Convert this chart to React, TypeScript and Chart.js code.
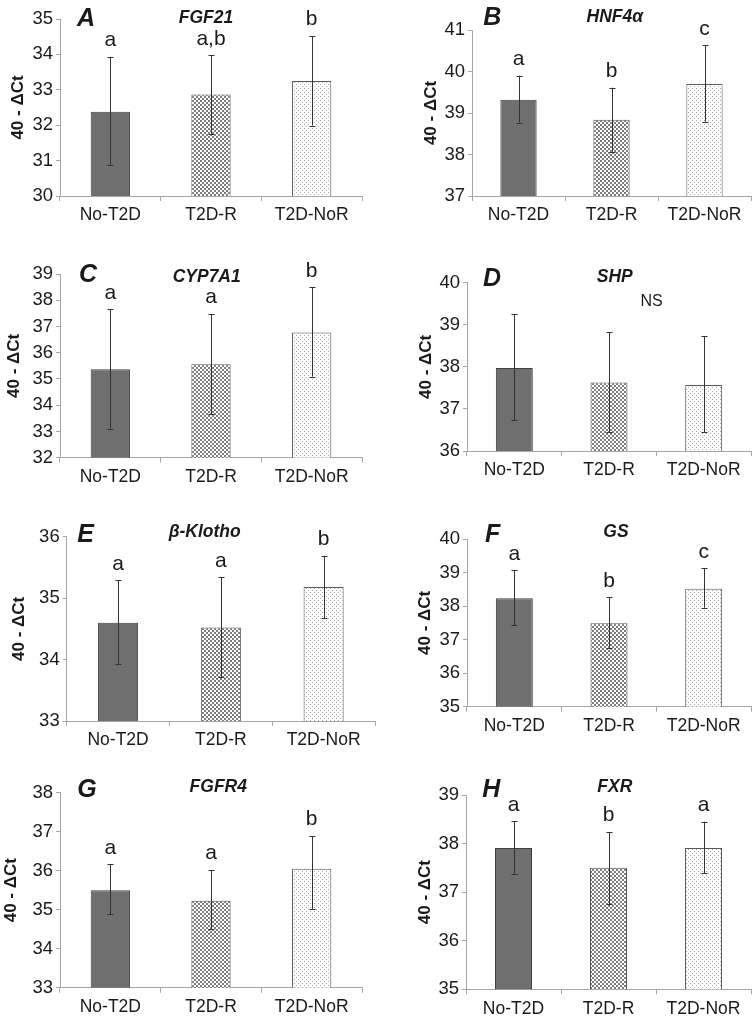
import React, { useEffect, useRef } from 'react';
import { Chart, registerables } from 'chart.js';

Chart.register(...registerables);

const FONT = "'Liberation Sans', Arial, Helvetica, sans-serif";

// ---------- data ----------
const categories = ['No-T2D', 'T2D-R', 'T2D-NoR'];
const panelLetters = ['A', 'B', 'C', 'D', 'E', 'F', 'G', 'H'];
const genes = ['FGF21', 'HNF4α', 'CYP7A1', 'SHP', 'β-Klotho', 'GS', 'FGFR4', 'FXR'];
const yTitle = '40 - ΔCt';
const yMins = [30, 37, 32, 36, 33, 35, 33, 35];
const yMaxs = [35, 41, 39, 40, 36, 40, 38, 39];

const meansFGF21 = [32.38, 32.87, 33.25];
const meansHNF4a = [39.32, 38.84, 39.70];
const meansCYP7A1 = [35.37, 35.56, 36.77];
const meansSHP = [37.97, 37.63, 37.57];
const meansKlotho = [34.60, 34.52, 35.18];
const meansGS = [38.23, 37.49, 38.52];
const meansFGFR4 = [35.50, 35.23, 36.05];
const meansFXR = [37.91, 37.50, 37.91];

const errHighFGF21 = [33.93, 33.98, 34.52];
const errHighHNF4a = [39.90, 39.61, 40.63];
const errHighCYP7A1 = [37.66, 37.48, 38.50];
const errHighSHP = [39.25, 38.82, 38.73];
const errHighKlotho = [35.29, 35.34, 35.69];
const errHighGS = [39.07, 38.26, 39.13];
const errHighFGFR4 = [36.16, 36.02, 36.89];
const errHighFXR = [38.46, 38.24, 38.45];

const errLowFGF21 = [30.87, 31.75, 31.99];
const errLowHNF4a = [38.77, 38.07, 38.79];
const errLowCYP7A1 = [33.10, 33.65, 35.09];
const errLowSHP = [36.74, 36.44, 36.44];
const errLowKlotho = [33.93, 33.71, 34.67];
const errLowGS = [37.43, 36.76, 37.95];
const errLowFGFR4 = [34.88, 34.50, 35.02];
const errLowFXR = [37.38, 36.75, 37.39];

const sigFGF21 = ['a', 'a,b', 'b'];
const sigHNF4a = ['a', 'b', 'c'];
const sigCYP7A1 = ['a', 'a', 'b'];
const sigSHP: string[] = [];
const sigKlotho = ['a', 'a', 'b'];
const sigGS = ['a', 'b', 'c'];
const sigFGFR4 = ['a', 'a', 'b'];
const sigFXR = ['a', 'b', 'a'];

// panel-level note (data coords: category index, value)
const noteSHP = { text: 'NS', x: 1.45, y: 39.45 };

const allMeans = [meansFGF21, meansHNF4a, meansCYP7A1, meansSHP, meansKlotho, meansGS, meansFGFR4, meansFXR];
const allHigh = [errHighFGF21, errHighHNF4a, errHighCYP7A1, errHighSHP, errHighKlotho, errHighGS, errHighFGFR4, errHighFXR];
const allLow = [errLowFGF21, errLowHNF4a, errLowCYP7A1, errLowSHP, errLowKlotho, errLowGS, errLowFGFR4, errLowFXR];
const allSig = [sigFGF21, sigHNF4a, sigCYP7A1, sigSHP, sigKlotho, sigGS, sigFGFR4, sigFXR];
const allNotes = [null, null, null, noteSHP, null, null, null, null];

// ---------- layout (page pixels) ----------
type Lay = {
  x: number; y: number; w: number; h: number;
  l: number; t: number; r: number; b: number;
  lx: number; ly: number; gx: number; gy: number; ytx: number;
};
const layouts: Lay[] = [
  { x: 0, y: 0, w: 376, h: 255, l: 60, t: 19, r: 362, b: 196, lx: 77, ly: 26, gx: 206, gy: 22.7, ytx: 18.5 },
  { x: 376, y: 0, w: 376, h: 255, l: 472, t: 30, r: 751, b: 196, lx: 483.3, ly: 25, gx: 614.8, gy: 21.7, ytx: 431.5 },
  { x: 0, y: 255, w: 376, h: 255, l: 60, t: 274, r: 362, b: 457.7, lx: 79, ly: 282.3, gx: 206.7, gy: 281.7, ytx: 14.5 },
  { x: 376, y: 255, w: 376, h: 255, l: 467, t: 282.7, r: 751, b: 451, lx: 483, ly: 285.7, gx: 614.8, gy: 281.7, ytx: 426.8 },
  { x: 0, y: 510, w: 376, h: 255, l: 66.7, t: 536.7, r: 375, b: 721, lx: 77.3, ly: 541.7, gx: 204.7, gy: 536.7, ytx: 19 },
  { x: 376, y: 510, w: 376, h: 255, l: 467, t: 539, r: 751, b: 706.7, lx: 485, ly: 542.3, gx: 616, gy: 536.7, ytx: 425 },
  { x: 0, y: 765, w: 376, h: 254, l: 60, t: 792.7, r: 362, b: 987.7, lx: 77.3, ly: 796.7, gx: 218.3, gy: 791.7, ytx: 11 },
  { x: 376, y: 765, w: 376, h: 254, l: 466, t: 795, r: 751, b: 989.3, lx: 482.3, ly: 797.3, gx: 614.8, gy: 791.7, ytx: 425 },
];

const AXIS_COLOR = '#a6a6a6';
const TEXT_COLOR = '#1a1a1a';

function makeCheckPattern(ctx: CanvasRenderingContext2D): CanvasPattern | string {
  const t = document.createElement('canvas');
  t.width = 4; t.height = 4;
  const c = t.getContext('2d')!;
  c.fillStyle = '#ffffff';
  c.fillRect(0, 0, 4, 4);
  c.fillStyle = '#7c7c7c';
  c.fillRect(0, 0, 2, 2);
  c.fillRect(2, 2, 2, 2);
  return ctx.createPattern(t, 'repeat') || '#bbbbbb';
}

function makeDotPattern(ctx: CanvasRenderingContext2D): CanvasPattern | string {
  const t = document.createElement('canvas');
  t.width = 4; t.height = 4;
  const c = t.getContext('2d')!;
  c.fillStyle = '#ffffff';
  c.fillRect(0, 0, 4, 4);
  c.fillStyle = '#a8a8a8';
  c.fillRect(0, 0, 1, 1);
  c.fillRect(2, 2, 1, 1);
  return ctx.createPattern(t, 'repeat') || '#eeeeee';
}

function Panel({ idx }: { idx: number }) {
  const ref = useRef<HTMLCanvasElement>(null);
  const L = layouts[idx];

  useEffect(() => {
    const canvas = ref.current!;
    const ctx = canvas.getContext('2d')!;
    const means = allMeans[idx];
    const hi = allHigh[idx];
    const lo = allLow[idx];
    const sig = allSig[idx];
    const note = allNotes[idx];

    const overlay = {
      id: 'overlay' + idx,
      afterDatasetsDraw(chart: any) {
        const c = chart.ctx as CanvasRenderingContext2D;
        const xs = chart.scales.x;
        const ys = chart.scales.y;
        const meta = chart.getDatasetMeta(0);
        c.save();
        // error bars
        c.strokeStyle = '#333333';
        c.lineWidth = 1;
        for (let i = 0; i < means.length; i++) {
          const bx = Math.round(meta.data[i].x) + 0.5;
          const yh = ys.getPixelForValue(hi[i]);
          const yl = ys.getPixelForValue(lo[i]);
          c.beginPath();
          c.moveTo(bx, yh);
          c.lineTo(bx, yl);
          c.moveTo(bx - 3, Math.round(yh) + 0.5);
          c.lineTo(bx + 3, Math.round(yh) + 0.5);
          c.moveTo(bx - 3, Math.round(yl) + 0.5);
          c.lineTo(bx + 3, Math.round(yl) + 0.5);
          c.stroke();
        }
        // significance letters
        c.fillStyle = TEXT_COLOR;
        c.font = `21px ${FONT}`;
        c.textAlign = 'center';
        c.textBaseline = 'alphabetic';
        for (let i = 0; i < sig.length; i++) {
          const bx = meta.data[i].x;
          c.fillText(sig[i], bx, ys.getPixelForValue(hi[i]) - 10.5);
        }
        if (note) {
          c.font = `16px ${FONT}`;
          c.fillText(note.text, xs.getPixelForValue(note.x), ys.getPixelForValue(note.y));
        }
        // y title
        c.save();
        c.translate(L.ytx - L.x, (chart.chartArea.top + chart.chartArea.bottom) / 2);
        c.rotate(-Math.PI / 2);
        c.font = `bold 17px ${FONT}`;
        c.textAlign = 'center';
        c.textBaseline = 'middle';
        c.fillText(yTitle, 0, 0);
        c.restore();
        // panel letter
        c.font = `italic bold 25px ${FONT}`;
        c.textAlign = 'left';
        c.textBaseline = 'alphabetic';
        c.fillText(panelLetters[idx], L.lx - L.x, L.ly - L.y);
        // gene title
        c.font = `italic bold 17.5px ${FONT}`;
        c.textAlign = 'center';
        c.fillText(genes[idx], L.gx - L.x, L.gy - L.y);
        c.restore();
      },
    };

    const chart = new Chart(canvas, {
      type: 'bar',
      data: {
        labels: categories,
        datasets: [
          {
            data: means,
            backgroundColor: ['#6f6f6f', makeCheckPattern(ctx), makeDotPattern(ctx)] as any,
            borderColor: ['#3f3f3f', '#555555', '#5a5a5a'],
            borderWidth: 1,
            barPercentage: 0.39,
            categoryPercentage: 1,
          },
        ],
      },
      options: {
        responsive: false,
        animation: false,
        devicePixelRatio: 1,
        layout: {
          padding: { top: L.t - L.y, right: L.x + L.w - L.r, left: 0, bottom: 0 },
        },
        plugins: {
          legend: { display: false },
          title: { display: false },
          tooltip: { enabled: false },
        },
        scales: {
          x: {
            type: 'category',
            grid: { display: true, drawOnChartArea: false, drawTicks: true, tickLength: 5, color: AXIS_COLOR, offset: true },
            border: { display: true, color: AXIS_COLOR, width: 1 },
            ticks: { font: { family: FONT, size: 17.5 }, color: TEXT_COLOR, padding: 4, maxRotation: 0, autoSkip: false },
            afterFit: (s: any) => { s.height = L.y + L.h - L.b; },
          },
          y: {
            min: yMins[idx],
            max: yMaxs[idx],
            ticks: { stepSize: 1, font: { family: FONT, size: 18.5 }, color: TEXT_COLOR, padding: 3 },
            grid: { display: true, drawOnChartArea: false, drawTicks: true, tickLength: 4, color: AXIS_COLOR },
            border: { display: true, color: AXIS_COLOR, width: 1 },
            afterFit: (s: any) => { s.width = L.l - L.x; },
          },
        },
      },
      plugins: [overlay],
    } as any);
    return () => chart.destroy();
  }, [idx]);

  return (
    <canvas
      ref={ref}
      width={L.w}
      height={L.h}
      style={{ position: 'absolute', left: L.x, top: L.y, width: L.w, height: L.h, display: 'block' }}
    />
  );
}

export default function App() {
  return (
    <div style={{ position: 'absolute', left: 0, top: 0, width: 752, height: 1019, background: '#ffffff' }}>
      {layouts.map((_, i) => (
        <Panel key={i} idx={i} />
      ))}
    </div>
  );
}
